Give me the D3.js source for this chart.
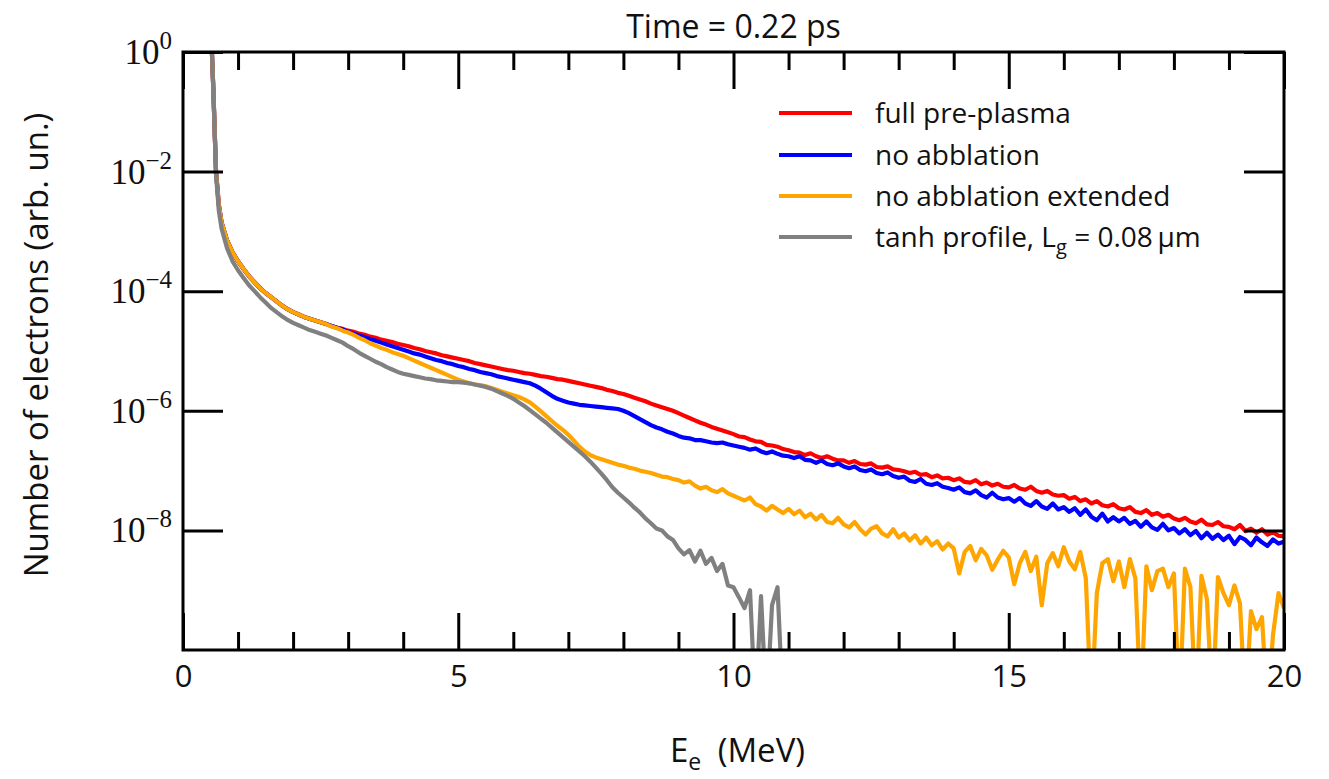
<!DOCTYPE html>
<html lang="en">
<head>
  <meta charset="UTF-8">
  <title>Electron spectra</title>
  <style>
    body { margin: 0; background: #fff; }
    svg text { font-family: "Open Sans", "DejaVu Sans", sans-serif; fill: #111; }
    .serif { font-family: "Liberation Serif", "DejaVu Serif", serif; }
  </style>
</head>
<body>
  <div id="chart"></div>

  <script src="https://cdnjs.cloudflare.com/ajax/libs/d3/7.8.5/d3.min.js"></script>
  <script>
    // energy bins (MeV)
    const energy = [
      0.5, 0.55, 0.6, 0.65, 0.7, 0.8, 0.9,
      1.0, 1.1, 1.2, 1.3, 1.4, 1.5, 1.6, 1.7, 1.8, 1.9,
      2.0, 2.1, 2.2, 2.3, 2.4, 2.5, 2.6, 2.7, 2.8, 2.9,
      3.0, 3.1, 3.2, 3.3, 3.4, 3.5, 3.6, 3.7, 3.8, 3.9,
      4.0, 4.1, 4.2, 4.3, 4.4, 4.5, 4.6, 4.7, 4.8, 4.9,
      5.0, 5.1, 5.2, 5.3, 5.4, 5.5, 5.6, 5.7, 5.8, 5.9,
      6.0, 6.1, 6.2, 6.3, 6.4, 6.5, 6.6, 6.7, 6.8, 6.9,
      7.0, 7.1, 7.2, 7.3, 7.4, 7.5, 7.6, 7.7, 7.8, 7.9,
      8.0, 8.1, 8.2, 8.3, 8.4, 8.5, 8.6, 8.7, 8.8, 8.9,
      9.0, 9.1, 9.2, 9.3, 9.4, 9.5, 9.6, 9.7, 9.8, 9.9,
      10.0, 10.1, 10.2, 10.3, 10.4, 10.5, 10.6, 10.7, 10.8, 10.9,
      11.0, 11.1, 11.2, 11.3, 11.4, 11.5, 11.6, 11.7, 11.8, 11.9,
      12.0, 12.1, 12.2, 12.3, 12.4, 12.5, 12.6, 12.7, 12.8, 12.9,
      13.0, 13.1, 13.2, 13.3, 13.4, 13.5, 13.6, 13.7, 13.8, 13.9,
      14.0, 14.1, 14.2, 14.3, 14.4, 14.5, 14.6, 14.7, 14.8, 14.9,
      15.0, 15.1, 15.2, 15.3, 15.4, 15.5, 15.6, 15.7, 15.8, 15.9,
      16.0, 16.1, 16.2, 16.3, 16.4, 16.5, 16.6, 16.7, 16.8, 16.9,
      17.0, 17.1, 17.2, 17.3, 17.4, 17.5, 17.6, 17.7, 17.8, 17.9,
      18.0, 18.1, 18.2, 18.3, 18.4, 18.5, 18.6, 18.7, 18.8, 18.9,
      19.0, 19.1, 19.2, 19.3, 19.4, 19.5, 19.6, 19.7, 19.8, 19.9,
      20.0
    ];

    // log10 of number of electrons (null = empty bin)
    const fullPrePlasma = [
      0.6, -0.6, -2.0, -2.55, -2.85, -3.15, -3.35,
      -3.5, -3.63, -3.75, -3.85, -3.95, -4.03, -4.1, -4.17, -4.24, -4.3,
      -4.35, -4.39, -4.43, -4.46, -4.49, -4.52, -4.55, -4.58, -4.61, -4.63,
      -4.66, -4.68, -4.71, -4.73, -4.76, -4.78, -4.81, -4.83, -4.85, -4.88,
      -4.9, -4.92, -4.95, -4.97, -5.0, -5.02, -5.04, -5.07, -5.09, -5.11,
      -5.13, -5.15, -5.17, -5.2, -5.22, -5.24, -5.26, -5.28, -5.3, -5.32,
      -5.33, -5.35, -5.37, -5.38, -5.4, -5.42, -5.43, -5.45, -5.47, -5.48,
      -5.5, -5.52, -5.54, -5.56, -5.58, -5.6, -5.62, -5.65, -5.67, -5.7,
      -5.72, -5.75, -5.78, -5.81, -5.84, -5.88, -5.91, -5.94, -5.97, -6.0,
      -6.04, -6.08, -6.12, -6.16, -6.2, -6.23, -6.27, -6.3, -6.33, -6.36,
      -6.39, -6.43, -6.44, -6.48, -6.51, -6.52, -6.57, -6.58, -6.6, -6.64,
      -6.66, -6.69, -6.7, -6.74, -6.71, -6.76, -6.79, -6.76, -6.8, -6.83,
      -6.83, -6.87, -6.84, -6.89, -6.9, -6.88, -6.94, -6.95, -6.93, -6.98,
      -6.99, -7.01, -7.04, -7.02, -7.07, -7.06, -7.11, -7.08, -7.13, -7.12,
      -7.16, -7.13, -7.19, -7.2, -7.16, -7.23, -7.2, -7.25, -7.22, -7.27,
      -7.28, -7.24, -7.3, -7.32, -7.27, -7.34, -7.37, -7.34, -7.4, -7.42,
      -7.41, -7.47, -7.44, -7.51, -7.48, -7.55, -7.51, -7.58, -7.6, -7.56,
      -7.63, -7.65, -7.61, -7.69, -7.71, -7.66, -7.74, -7.71, -7.77, -7.74,
      -7.8, -7.83, -7.79, -7.85, -7.88, -7.82, -7.9, -7.91, -7.86, -7.93,
      -7.94, -7.98, -7.91, -8.01, -7.97, -8.04, -7.98, -8.07, -8.03, -8.09,
      -8.1
    ];

    const noAblation = [
      0.6, -0.6, -2.0, -2.55, -2.85, -3.15, -3.35,
      -3.5, -3.63, -3.75, -3.85, -3.95, -4.03, -4.1, -4.17, -4.24, -4.3,
      -4.35, -4.39, -4.43, -4.46, -4.49, -4.52, -4.55, -4.58, -4.61, -4.64,
      -4.68, -4.71, -4.74, -4.77, -4.8, -4.83, -4.86, -4.89, -4.92, -4.95,
      -4.98, -5.01, -5.04, -5.06, -5.09, -5.12, -5.15, -5.17, -5.2, -5.22,
      -5.25, -5.27, -5.3, -5.32, -5.35, -5.37, -5.39, -5.42, -5.44, -5.46,
      -5.48, -5.5, -5.52, -5.54, -5.58, -5.63, -5.69, -5.75, -5.8, -5.83,
      -5.86, -5.88, -5.9, -5.91, -5.92, -5.93, -5.94, -5.95, -5.96, -5.97,
      -6.0, -6.04, -6.09, -6.14, -6.19, -6.24, -6.28, -6.31, -6.35, -6.38,
      -6.42, -6.45, -6.46, -6.49, -6.49, -6.51, -6.53, -6.54, -6.53, -6.56,
      -6.58, -6.6, -6.62, -6.65, -6.63, -6.68, -6.71, -6.68, -6.72, -6.75,
      -6.76, -6.79, -6.76, -6.82, -6.83, -6.87, -6.83, -6.89, -6.91, -6.88,
      -6.93, -6.96, -6.93, -6.99, -7.01, -6.98, -7.04, -7.06, -7.03, -7.09,
      -7.12, -7.1, -7.17, -7.19, -7.14, -7.22, -7.24, -7.21, -7.27, -7.29,
      -7.32, -7.28, -7.36, -7.38, -7.33, -7.41, -7.45, -7.37, -7.45, -7.48,
      -7.46, -7.52, -7.46, -7.55, -7.59, -7.51, -7.6, -7.64, -7.55, -7.65,
      -7.61, -7.69, -7.63, -7.74, -7.65, -7.77, -7.83, -7.72, -7.85, -7.78,
      -7.85, -7.79, -7.89, -7.84, -7.94, -7.85, -7.95, -7.99, -7.89, -8.0,
      -7.96, -8.05, -7.98, -8.08, -8.01, -8.13, -8.04, -8.14, -8.07, -8.16,
      -8.09, -8.23, -8.11, -8.16, -8.25, -8.12, -8.2, -8.26, -8.15, -8.22,
      -8.19
    ];

    const noAblationExt = [
      0.6, -0.6, -2.0, -2.55, -2.85, -3.15, -3.35,
      -3.5, -3.63, -3.75, -3.85, -3.95, -4.03, -4.1, -4.17, -4.24, -4.3,
      -4.35, -4.39, -4.43, -4.46, -4.49, -4.52, -4.55, -4.59, -4.62, -4.66,
      -4.69, -4.73, -4.78, -4.82, -4.87, -4.91, -4.95, -4.98, -5.02, -5.05,
      -5.08, -5.12, -5.16, -5.2, -5.24, -5.28, -5.32, -5.36, -5.4, -5.44,
      -5.48, -5.51, -5.54, -5.56, -5.57, -5.59, -5.62, -5.65, -5.68, -5.71,
      -5.74, -5.77, -5.81, -5.86, -5.93, -6.01, -6.09, -6.17, -6.25, -6.32,
      -6.4, -6.5, -6.6, -6.68, -6.74, -6.78, -6.81, -6.84, -6.87, -6.9,
      -6.92, -6.95, -6.97, -7.0, -7.02, -7.04, -7.07, -7.1, -7.11, -7.14,
      -7.16, -7.2, -7.18, -7.25, -7.3, -7.27, -7.33, -7.36, -7.31, -7.38,
      -7.42, -7.46, -7.5, -7.45, -7.56, -7.6, -7.67, -7.59, -7.65, -7.71,
      -7.64, -7.73, -7.67, -7.78, -7.72, -7.82, -7.74, -7.86, -7.88, -7.79,
      -7.9, -7.95, -7.86, -7.98, -8.07, -7.97, -7.93, -8.05, -8.1, -7.98,
      -8.12, -8.05, -8.17, -8.08, -8.22, -8.12, -8.25, -8.18, -8.32, -8.22,
      -8.3, -8.72, -8.36, -8.26, -8.5, -8.31, -8.42, -8.66, -8.49, -8.34,
      -8.45, -8.9, -8.55, -8.36, -8.68, -8.44, -9.25, -8.55, -8.38, -8.6,
      -8.28, -8.52, -8.65, -8.36, -8.8, -11, -9.05, -8.55, -8.48, -8.85,
      -8.52, -8.95, -8.48, -8.8, -11, -8.6, -9.0, -8.68, -8.64, -8.95,
      -8.72, -11, -8.64, -8.95, -11, -8.76, -9.15, -11, -8.78, -9.05,
      -9.25, -8.92, -9.22, -11, -9.35, -9.65, -9.45, -11, -9.75, -9.05,
      -9.3
    ];

    const tanhProfile = [
      0.6, -0.6, -2.05, -2.65, -2.95, -3.28, -3.5,
      -3.65, -3.78, -3.9, -4.0, -4.1, -4.19, -4.28, -4.35, -4.42, -4.48,
      -4.53, -4.57, -4.61, -4.65, -4.68, -4.71, -4.74, -4.78, -4.82, -4.86,
      -4.92, -4.97, -5.03, -5.08, -5.13, -5.18, -5.22, -5.27, -5.31, -5.35,
      -5.38, -5.4, -5.42, -5.44, -5.46, -5.47, -5.49, -5.5, -5.51, -5.52,
      -5.52, -5.53, -5.54, -5.56, -5.58, -5.6, -5.63, -5.67, -5.71, -5.75,
      -5.8, -5.86, -5.92, -5.99, -6.06, -6.13, -6.2, -6.28, -6.36, -6.44,
      -6.52, -6.6, -6.68, -6.76, -6.85, -6.95, -7.05, -7.16, -7.28, -7.37,
      -7.45, -7.53, -7.62, -7.7, -7.8, -7.88, -7.97, -8.0, -8.1, -8.16,
      -8.3, -8.4, -8.33, -8.52, -8.34, -8.56, -8.46, -8.68, -8.56, -8.92,
      -8.95, -9.12, -9.3, -9.0, -11, -9.1, -11, -9.25, -8.95, -11,
      null, null, null, null, null, null, null, null, null, null,
      null, null, null, null, null, null, null, null, null, null,
      null, null, null, null, null, null, null, null, null, null,
      null, null, null, null, null, null, null, null, null, null,
      null, null, null, null, null, null, null, null, null, null,
      null, null, null, null, null, null, null, null, null, null,
      null, null, null, null, null, null, null, null, null, null,
      null, null, null, null, null, null, null, null, null, null,
      null, null, null, null, null, null, null, null, null, null,
      null
    ];

    const seriesNames = ['full pre-plasma', 'no abblation', 'no abblation extended', 'tanh profile'];
    const seriesColors = ['#ff0000', '#0000ff', '#ffa500', '#808080'];
    const seriesValues = [fullPrePlasma, noAblation, noAblationExt, tanhProfile];

    const xMajor = [0, 5, 10, 15, 20];
    const xMinor = [1, 2, 3, 4, 6, 7, 8, 9, 11, 12, 13, 14, 16, 17, 18, 19];
    const yTicks = [0, -2, -4, -6, -8]; // exponents

    //size of canvas and plot box
    const width = 1329, height = 779;
    const plotL = 183, plotR = 1284, plotT = 52, plotB = 650;

    const svg = d3.select('#chart')
      .append('svg')
      .attr('width', width)
      .attr('height', height);

    const x = d3.scaleLinear().domain([0, 20]).range([plotL, plotR]);
    const y = d3.scaleLog().domain([1e-10, 1]).range([plotB, plotT]);

    svg.append('clipPath').attr('id', 'plot-clip')
      .append('rect')
      .attr('x', plotL).attr('y', plotT)
      .attr('width', plotR - plotL).attr('height', plotB - plotT);

    //curves
    const line = d3.line()
      .defined(d => d.v !== null)
      .x(d => x(d.e))
      .y(d => y(Math.pow(10, d.v)));

    const curves = svg.append('g').attr('clip-path', 'url(#plot-clip)');
    seriesValues.forEach(function (vals, i) {
      const pts = energy.map((e, j) => ({ e: e, v: vals[j] }));
      curves.append('path')
        .datum(pts)
        .attr('d', line)
        .attr('fill', 'none')
        .attr('stroke', seriesColors[i])
        .attr('stroke-width', 4.2)
        .attr('stroke-linejoin', 'round');
    });

    //ticks, all pointing inward
    function styleAxis(g) {
      g.select('.domain').remove();
      g.selectAll('.tick line').attr('stroke', '#000').attr('stroke-width', 3);
    }

    svg.append('g').attr('transform', `translate(0,${plotB})`)
      .call(d3.axisBottom(x).tickValues(xMinor).tickSize(-18).tickFormat(''))
      .call(styleAxis);
    svg.append('g').attr('transform', `translate(0,${plotB})`)
      .call(d3.axisBottom(x).tickValues(xMajor).tickSize(-37).tickPadding(15).tickFormat(d3.format('d')))
      .call(styleAxis)
      .call(g => g.selectAll('text').attr('font-size', 31).style('font-family', '"Open Sans", sans-serif').attr('fill', '#111'));
    svg.append('g').attr('transform', `translate(0,${plotT})`)
      .call(d3.axisTop(x).tickValues(xMinor).tickSize(-18).tickFormat(''))
      .call(styleAxis);
    svg.append('g').attr('transform', `translate(0,${plotT})`)
      .call(d3.axisTop(x).tickValues(xMajor).tickSize(-37).tickFormat(''))
      .call(styleAxis);

    const yTickVals = yTicks.map(p => Math.pow(10, p));
    svg.append('g').attr('transform', `translate(${plotL},0)`)
      .call(d3.axisLeft(y).tickValues(yTickVals).tickSize(-40).tickFormat(''))
      .call(styleAxis);
    svg.append('g').attr('transform', `translate(${plotR},0)`)
      .call(d3.axisRight(y).tickValues(yTickVals).tickSize(-40).tickFormat(''))
      .call(styleAxis);

    //10^n labels
    yTicks.forEach(function (p) {
      const t = svg.append('text')
        .attr('class', 'serif')
        .attr('x', 172)
        .attr('y', y(Math.pow(10, p)) + 12)
        .attr('text-anchor', 'end')
        .attr('font-size', 35);
      t.append('tspan').text('10');
      t.append('tspan').attr('dy', -15).attr('font-size', 25)
        .text(p === 0 ? '0' : '\u2212' + Math.abs(p));
    });

    //frame
    svg.append('rect')
      .attr('x', plotL).attr('y', plotT)
      .attr('width', plotR - plotL).attr('height', plotB - plotT)
      .attr('fill', 'none')
      .attr('stroke', '#000')
      .attr('stroke-width', 3);

    //title and axis labels
    svg.append('text')
      .attr('x', (plotL + plotR) / 2).attr('y', 38)
      .attr('text-anchor', 'middle')
      .attr('font-size', 32)
      .text('Time = 0.22 ps');

    const xl = svg.append('text')
      .attr('x', (plotL + plotR) / 2 + 4).attr('y', 762)
      .attr('text-anchor', 'middle')
      .attr('font-size', 33);
    xl.append('tspan').text('E');
    xl.append('tspan').attr('dy', 8).attr('font-size', 23).text('e');
    xl.append('tspan').attr('dy', -8).text('\u2002(MeV)');

    svg.append('text')
      .attr('transform', `translate(48,${(plotT + plotB) / 2 - 6}) rotate(-90)`)
      .attr('text-anchor', 'middle')
      .attr('font-size', 33)
      .text('Number of electrons (arb. un.)');

    //legend
    const legendY = [113, 155, 196, 237];
    const legend = svg.append('g');
    seriesNames.forEach(function (name, i) {
      legend.append('line')
        .attr('x1', 779).attr('x2', 852)
        .attr('y1', legendY[i]).attr('y2', legendY[i])
        .attr('stroke', seriesColors[i])
        .attr('stroke-width', 4.2);
      const t = legend.append('text')
        .attr('x', 875).attr('y', legendY[i] + 10)
        .attr('font-size', 28);
      if (i < 3) {
        t.text(name);
      } else {
        t.append('tspan').text('tanh profile, L');
        t.append('tspan').attr('dy', 7).attr('font-size', 20).text('g');
        t.append('tspan').attr('dy', -7).text(' = 0.08\u2009\u03bcm');
      }
    });
  </script>
</body>
</html>
